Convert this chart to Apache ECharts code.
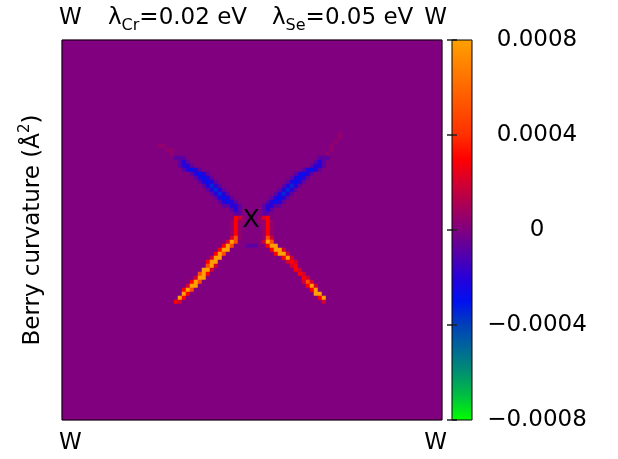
<!DOCTYPE html>
<html>
<head>
<meta charset="utf-8">
<script src="https://cdn.jsdelivr.net/npm/echarts@6/dist/echarts.min.js"></script>
<style>
html, body { margin: 0; padding: 0; background: #fff; }
#main { width: 618px; height: 459px; }
</style>
</head>
<body>
<div id="main"></div>
<script>
// k-mesh size of the map (cells across / down)
var nCols = 95;
var nRows = 95;

// value behind each letter used in the map below
var levels = { a: -0.00008, b: -0.0002, c: -0.0003, d: -0.00035, p: 0.00005, q: 0.0002, r: 0.0003, s: 0.0005, o: 0.0008 };

// non-zero cells: [row, first column, letters]; everything else is 0
var runs = [
  // faint red tails above the blue arms
  [26, 24, 'pp'], [27, 26, 'pp'], [28, 27, 'p'],
  [23, 69, 'p'], [24, 69, 'p'], [25, 68, 'p'], [26, 67, 'p'], [27, 67, 'p'], [28, 66, 'p'],
  // left blue arm
  [29, 28, 'aaa'], [30, 29, 'aba'], [31, 29, 'abba'], [32, 30, 'abcba'],
  [33, 32, 'abcba'], [34, 33, 'abcba'], [35, 34, 'abcba'], [36, 35, 'abdba'],
  [37, 36, 'abdba'], [38, 37, 'abdba'], [39, 38, 'abcba'], [40, 39, 'abcba'],
  [41, 40, 'aabba'], [42, 42, 'aba'], [43, 43, 'aa'],
  // right blue arm
  [29, 64, 'aaa'], [30, 63, 'aba'], [31, 62, 'abba'], [32, 60, 'abcba'],
  [33, 58, 'abcba'], [34, 57, 'abcba'], [35, 56, 'abcba'], [36, 55, 'abdba'],
  [37, 54, 'abdba'], [38, 53, 'abdba'], [39, 52, 'abcba'], [40, 51, 'abcba'],
  [41, 50, 'abbaa'], [42, 50, 'aba'], [43, 50, 'aa'],
  // left red / orange arm
  [44, 43, 'rqp'], [45, 42, 'prpp'], [46, 42, 'prp'], [47, 42, 'prp'], [48, 42, 'prp'],
  [49, 42, 'qsp'], [50, 41, 'qos'], [51, 40, 'ros'], [52, 39, 'roo'], [53, 38, 'ros'],
  [54, 37, 'qoo'], [55, 36, 'roo'], [56, 36, 'soq'], [57, 35, 'ooq'], [58, 34, 'sor'],
  [59, 33, 'qoo'], [60, 32, 'ros'], [61, 31, 'qoo'], [62, 30, 'ros'], [63, 30, 'or'],
  [64, 29, 'or'], [65, 28, 'rq'],
  // right red / orange arm
  [44, 49, 'pqr'], [45, 49, 'pprp'], [46, 50, 'prp'], [47, 50, 'prp'], [48, 50, 'prp'],
  [49, 50, 'psq'], [50, 50, 'qos'], [51, 51, 'roo'], [52, 52, 'rooq'], [53, 53, 'rooq'],
  [54, 55, 'roq'], [55, 56, 'qrq'], [56, 57, 'qr'], [57, 58, 'rq'], [58, 59, 'rq'],
  [59, 60, 'rq'], [60, 60, 'qsq'], [61, 61, 'roq'], [62, 62, 'ro'], [63, 63, 'oo'],
  [64, 64, 'ro'], [65, 65, 'q'],
  // weak negative spot below X
  [51, 46, 'aaa']
];

var colorbarMin = -0.0008;
var colorbarMax = 0.0008;
var colorbarStep = 0.0004;
// palette, evenly spaced from min to max
var palette = ['#00ff00', '#00c040', '#009070', '#006898', '#0040b8', '#0010f0', '#2800d8', '#5500aa',
  '#800080', '#a80058', '#d40030', '#ff0000', '#ff3000', '#ff4c00', '#ff6800', '#ff8400', '#ffa000'];

var cornerLabels = ['W', 'W'];
var titles = [['Cr', '=0.02 eV'], ['Se', '=0.05 eV']];
var pointLabel = 'X';

var FONT = 'DejaVu Sans';

var grid = [];
for (var r = 0; r < nRows; r++) {
  grid.push([]);
  for (var c = 0; c < nCols; c++) grid[r].push(0);
}
runs.forEach(function (run) {
  for (var i = 0; i < run[2].length; i++) grid[run[0]][run[1] + i] = levels[run[2][i]];
});
var data = [];
for (var r = 0; r < nRows; r++) {
  for (var c = 0; c < nCols; c++) data.push([c, r, grid[r][c]]);
}
var colCats = [], rowCats = [];
for (var i = 0; i < nCols; i++) colCats.push(i);
for (var i = 0; i < nRows; i++) rowCats.push(i);

var myChart = echarts.init(document.getElementById('main'));

function txt(x, y, text, align) {
  return {
    type: 'text', x: x, y: y, z: 100,
    style: { text: text, fill: '#000', font: '23px "' + FONT + '"', align: align, verticalAlign: 'middle' }
  };
}

var titleRich = {
  s: { fontFamily: FONT, fontSize: 16, lineHeight: 14, verticalAlign: 'bottom', fill: '#000' }
};

var option = {
  animation: false,
  grid: [
    { left: 62, top: 40, width: 380, height: 380 },
    { left: 452, top: 40, width: 20, height: 380 }
  ],
  xAxis: [
    { type: 'category', gridIndex: 0, data: colCats, show: false },
    { type: 'value', gridIndex: 1, show: false, min: 0, max: 1 }
  ],
  yAxis: [
    {
      type: 'category', gridIndex: 0, data: rowCats, inverse: true,
      axisLine: { show: false }, axisTick: { show: false }, axisLabel: { show: false }, splitLine: { show: false },
      name: 'Berry curvature (Å{sup|2})', nameLocation: 'middle', nameRotate: 90, nameGap: 14,
      nameTextStyle: {
        fontFamily: FONT, fontSize: 23, color: '#000', lineHeight: 30,
        rich: { sup: { fontFamily: FONT, fontSize: 15, lineHeight: 14, verticalAlign: 'top', color: '#000' } }
      }
    },
    {
      type: 'value', gridIndex: 1, position: 'right', z: 10,
      min: colorbarMin, max: colorbarMax, interval: colorbarStep,
      axisLine: { show: false }, splitLine: { show: false },
      axisTick: { show: true, inside: true, length: 5, lineStyle: { color: '#222', width: 1.5 } },
      axisLabel: {
        margin: 65, align: 'center', color: '#000', fontFamily: FONT, fontSize: 23,
        formatter: function (v) { return Math.abs(v) < 1e-12 ? '0' : v.toFixed(4).replace('-', '\u2212'); }
      }
    },
    {
      type: 'value', gridIndex: 1, position: 'left', z: 10,
      min: colorbarMin, max: colorbarMax, interval: colorbarStep,
      axisLine: { show: false }, splitLine: { show: false }, axisLabel: { show: false },
      axisTick: { show: true, inside: true, length: 5, lineStyle: { color: '#222', width: 1.5 } }
    }
  ],
  visualMap: {
    type: 'continuous', seriesIndex: 0, dimension: 2,
    min: colorbarMin, max: colorbarMax,
    calculable: false, hoverLink: false,
    left: 452, top: 40, itemWidth: 20, itemHeight: 380, padding: 0,
    inRange: { color: palette }
  },
  series: [{
    type: 'heatmap',
    xAxisIndex: 0, yAxisIndex: 0,
    data: data,
    progressive: 0,
    itemStyle: { borderWidth: 0 },
    emphasis: { disabled: true }
  }],
  graphic: [
    { type: 'rect', z: 100, shape: { x: 62, y: 40, width: 380, height: 380 }, style: { fill: null, stroke: '#000', lineWidth: 1 } },
    { type: 'rect', z: 100, shape: { x: 452, y: 40, width: 20, height: 380 }, style: { fill: null, stroke: '#000', lineWidth: 1 } },
    txt(59, 18, cornerLabels[0], 'left'),
    txt(447, 18, cornerLabels[1], 'right'),
    txt(59, 443, cornerLabels[0], 'left'),
    txt(447, 443, cornerLabels[1], 'right'),
    {
      type: 'text', x: 251, y: 220, z: 100,
      style: { text: pointLabel, fill: '#000', font: '25px "' + FONT + '"', align: 'center', verticalAlign: 'middle' }
    },
    {
      type: 'text', x: 108, y: 2, z: 100,
      style: { text: 'λ{s|' + titles[0][0] + '}' + titles[0][1], fill: '#000', font: '23px "' + FONT + '"', lineHeight: 32, align: 'left', verticalAlign: 'top', rich: titleRich }
    },
    {
      type: 'text', x: 272, y: 2, z: 100,
      style: { text: 'λ{s|' + titles[1][0] + '}' + titles[1][1], fill: '#000', font: '23px "' + FONT + '"', lineHeight: 32, align: 'left', verticalAlign: 'top', rich: titleRich }
    }
  ]
};
myChart.setOption(option);
</script>
</body>
</html>
